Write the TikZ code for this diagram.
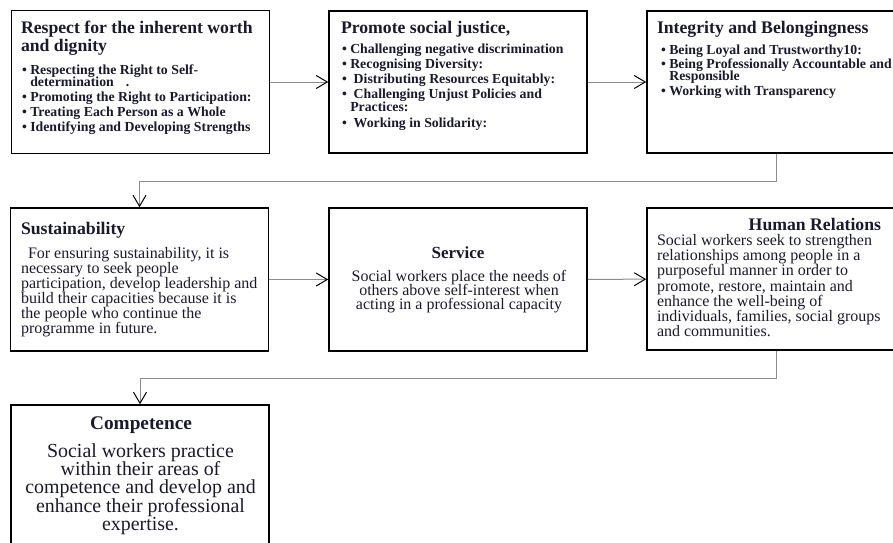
\documentclass[tikz,border=0pt]{standalone}
\usepackage{fontspec}
\setmainfont{Liberation Serif}
\usetikzlibrary{arrows.meta}
\definecolor{txt}{RGB}{26,26,46}
\definecolor{linegray}{RGB}{140,140,140}
\lineskiplimit=-40pt
\newcommand\fHead{\fontsize{17.7}{18.4}\selectfont\bfseries\lineskiplimit=-40pt}
\newcommand\fBul{\fontsize{13.8}{15}\selectfont\bfseries\lineskiplimit=-40pt}
\newcommand\fBody{\fontsize{16}{15}\selectfont\lineskiplimit=-40pt}
\newcommand\fBodyS{\fontsize{16}{14.3}\selectfont\lineskiplimit=-40pt}
\newcommand\fBodyH{\fontsize{16}{15.3}\selectfont\lineskiplimit=-40pt}
\newcommand\fSvc{\fontsize{17}{18}\selectfont\bfseries\lineskiplimit=-40pt}
\newcommand\fCompH{\fontsize{19.3}{20}\selectfont\bfseries\lineskiplimit=-40pt}
\newcommand\fComp{\fontsize{19.9}{18.3}\selectfont\lineskiplimit=-40pt}
\newcommand\bulgap{\phantom{•\ }}
\begin{document}
\begin{tikzpicture}[x=1pt,y=-1pt,
  box/.style={draw=black, line width=1.6pt, fill=white, inner sep=0pt, minimum width=258pt},
  conn/.style={draw=linegray, line width=1pt, -{Straight Barb[length=11pt,width=13pt,color=black,line width=1pt]}},
  txtnode/.style={inner sep=0pt, outer sep=0pt, text=txt, align=left, anchor=north west}]
\useasboundingbox[fill=white] (0,0) rectangle (893,542);
% boxes
\node[box, minimum height=143pt] (b1) at (140.5,82) {};
\node[box, minimum height=142pt] (b2) at (458,82) {};
\node[box, minimum height=142pt] (b3) at (776,82) {};
\node[box, minimum height=143pt] (b4) at (139.5,279.5) {};
\node[box, minimum height=143pt] (b5) at (458,279.5) {};
\node[box, minimum height=142pt] (b6) at (776,279) {};
\node[box, minimum height=160pt] (b7) at (140,485) {};
% connectors
\draw[conn] (b1) -- (b2);
\draw[conn] (b2) -- (b3);
\draw[conn] (b3.south) -- ++(0,28) -| (b4.north);
\draw[conn] (b4) -- (b5);
\draw[conn] (b5) -- (b6);
\draw[conn] (b6.south) -- ++(0,28) -| (b7.north);
% box 1
\node[txtnode, font=\fHead] (h1) at (21,21) {Respect for the inherent worth\\and dignity};
\node[txtnode, font=\fBul] (l1) at (22,64.5) {•\ Respecting the Right to Self-\\[-2.3pt]\bulgap determination\hspace{12pt}.\\[-0.8pt]•\ Promoting the Right to Participation:\\•\ Treating Each Person as a Whole\\•\ Identifying and Developing Strengths};
% box 2
\node[txtnode, font=\fBul] (l2) at (342,43.5) {•\ Challenging negative discrimination\\•\ Recognising Diversity:\\•\ \ Distributing Resources Equitably:\\•\ \ Challenging Unjust Policies and\\[-2pt]\bulgap Practices:\\[1pt]•\ \ Working in Solidarity:};
\node[txtnode, font=\fHead] (h2) at (341,21) {Promote social justice,};
% box 3
\node[txtnode, font=\fHead] (h3) at (657,21) {Integrity and Belongingness};
\node[txtnode, font=\fBul] (l3) at (661,44.5) {•\ Being Loyal and Trustworthy10:\\[-1pt]•\ Being Professionally Accountable and\\[-2.3pt]\bulgap Responsible\\[-0.5pt]•\ Working with Transparency};
% box 4
\node[txtnode, font=\fHead] (h4) at (21,221.8) {Sustainability};
\node[txtnode, font=\fBody] (t4) at (21,247) {\hspace*{7pt}For ensuring sustainability, it is\\necessary to seek people\\participation, develop leadership and\\build their capacities because it is\\the people who continue the\\programme in future.};
% box 5
\node[txtnode, anchor=north, font=\fSvc] (h5) at (458,246.3) {Service};
\node[txtnode, anchor=north, align=center, font=\fBodyS] (t5) at (459,270) {Social workers place the needs of\\others above self-interest when\\acting in a professional capacity};
% box 6
\node[txtnode, anchor=north east, font=\fHead] (h6) at (881,217.8) {Human Relations};
\node[txtnode, font=\fBodyH] (t6) at (657,234) {Social workers seek to strengthen\\relationships among people in a\\purposeful manner in order to\\promote, restore, maintain and\\enhance the well-being of\\individuals, families, social groups\\and communities.};
% box 7
\node[txtnode, anchor=north, font=\fCompH] (h7) at (141,416.7) {Competence};
\node[txtnode, anchor=north, align=center, font=\fComp] (t7) at (140.5,443.3) {Social workers practice\\within their areas of\\competence and develop and\\enhance their professional\\expertise.};
\end{tikzpicture}
\end{document}
